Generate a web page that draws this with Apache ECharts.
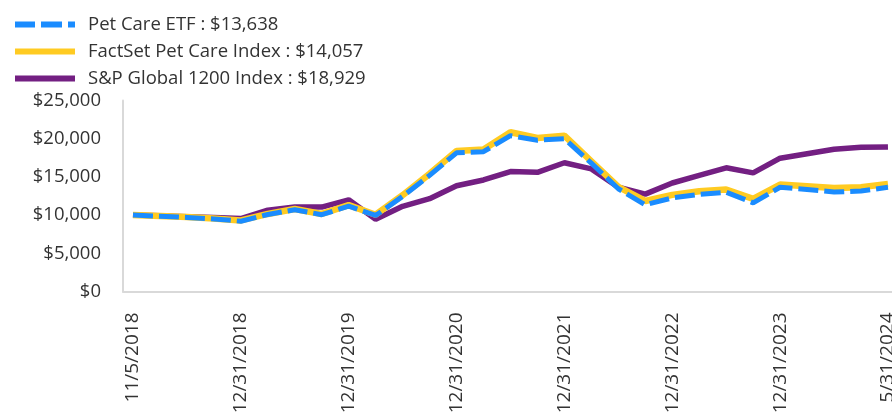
<!DOCTYPE html>
<html>
<head>
<meta charset="utf-8">
<script src="https://cdn.jsdelivr.net/npm/echarts@6/dist/echarts.min.js"></script>
<style>
html,body{margin:0;padding:0;background:#fff;}
#chart{width:892px;height:412px;}
</style>
</head>
<body>
<div id="chart"></div>
<script>
// Category labels (one per data point; blank = unlabeled point)
var categories = ['11/5/2018','','','','12/31/2018','','','','12/31/2019','','','','12/31/2020','','','','12/31/2021','','','','12/31/2022','','','','12/31/2023','','','','5/31/2024'];

var etfValues = [10000,9850,9700,9500,9200,10080,10700,10050,11170,9950,12450,15200,18150,18300,20400,19800,20000,16800,13450,11350,12250,12700,13000,11610,13650,13350,13020,13150,13638];
var indexValues = [10000,9870,9740,9560,9300,10150,10800,10150,11300,10050,12600,15400,18400,18600,20850,20100,20400,17050,13700,11850,12650,13130,13350,12130,14000,13780,13550,13660,14057];
var spValues = [10000,9900,9800,9700,9550,10650,11050,11050,12000,9450,11150,12150,13850,14600,15700,15600,16850,16050,13650,12750,14200,15200,16190,15530,17450,18040,18630,18880,18929];

var yTicks = [0,5000,10000,15000,20000,25000];

var seriesNames = ['Pet Care ETF','FactSet Pet Care Index','S&P Global 1200 Index'];
var seriesColors = ['#1a8cff','#ffcb22','#731f82'];

function fmt(v){ return '$' + v.toLocaleString('en-US'); }
function toPairs(arr){ return arr.map(function(v,i){ return [i,v]; }); }
var finals = {};
finals[seriesNames[0]] = etfValues[etfValues.length-1];
finals[seriesNames[1]] = indexValues[indexValues.length-1];
finals[seriesNames[2]] = spValues[spValues.length-1];

var labelIdx = [];
categories.forEach(function(c,i){ if(c) labelIdx.push(i); });

var chart = echarts.init(document.getElementById('chart'));
var font = 'Open Sans';
chart.setOption({
  animation:false,
  backgroundColor:'#fff',
  textStyle:{fontFamily:font},
  legend:{
    data:[
      {name:seriesNames[0],icon:'path://M0,0H20V6H0Z M26,0H47V6H26Z M53,0H60V6H53Z'},
      {name:seriesNames[1],icon:'rect'},
      {name:seriesNames[2],icon:'rect'}
    ],
    orient:'vertical',
    left:10, top:10,
    itemWidth:60, itemHeight:6, itemGap:8,
    textStyle:{fontFamily:font,fontSize:18.5,color:'#333',padding:[0,0,0,8]},
    formatter:function(n){ return n + ' : ' + fmt(finals[n]); }
  },
  grid:{left:123,right:0,top:100.5,bottom:120.5,containLabel:false,outerBoundsMode:'none'},
  xAxis:{
    type:'value',
    min:-0.37, max:28.15,
    splitLine:{show:false},
    axisLine:{show:true,onZero:false,lineStyle:{color:'#d9d9d9',width:2}},
    axisTick:{show:false},
    axisLabel:{
      customValues:labelIdx,
      rotate:90, margin:21,
      fontFamily:font, fontSize:19, color:'#333',
      formatter:function(v){ return categories[Math.round(v)]; }
    }
  },
  yAxis:{
    type:'value',
    min:yTicks[0], max:yTicks[yTicks.length-1], interval:5000,
    splitLine:{show:false},
    axisLine:{show:true,onZero:false,lineStyle:{color:'#d9d9d9',width:2}},
    axisTick:{show:false},
    axisLabel:{margin:22,fontFamily:font,fontSize:18.5,color:'#333',formatter:function(v){return fmt(v);}}
  },
  series:[
    {name:seriesNames[2],type:'line',data:toPairs(spValues),symbol:'none',
     lineStyle:{color:seriesColors[2],width:5.5},itemStyle:{color:seriesColors[2]}},
    {name:seriesNames[1],type:'line',data:toPairs(indexValues),symbol:'none',
     lineStyle:{color:seriesColors[1],width:6.5},itemStyle:{color:seriesColors[1]}},
    {name:seriesNames[0],type:'line',data:toPairs(etfValues),symbol:'none',
     lineStyle:{color:seriesColors[0],width:5,type:[20,6]},itemStyle:{color:seriesColors[0]}}
  ]
});
</script>
</body>
</html>
